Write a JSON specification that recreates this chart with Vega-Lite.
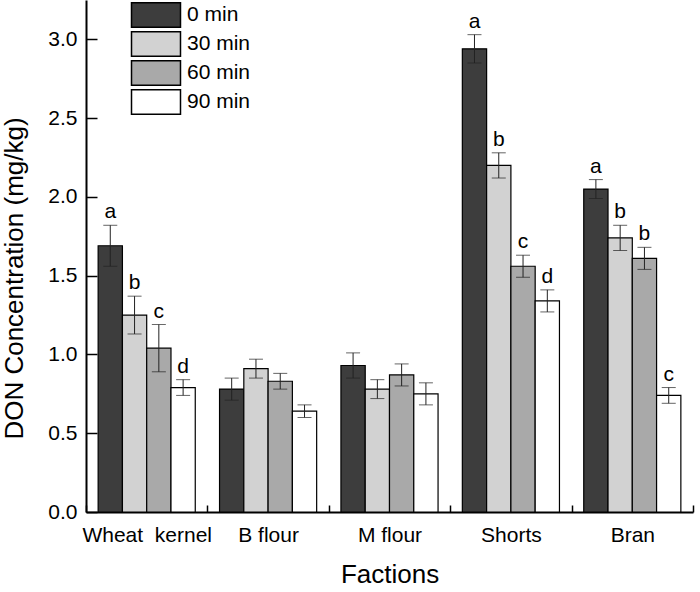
{
  "$schema": "https://vega.github.io/schema/vega-lite/v6.json",
  "width": 607,
  "height": 512,
  "autosize": "none",
  "padding": {"left": 86, "top": 0, "right": 7, "bottom": 80},
  "background": "white",
  "config": {
    "font": "Liberation Sans",
    "view": {"stroke": null}
  },
  "data": {
    "values": [
      {"frac": "Wheat kernel", "time": "0 min", "mean": 1.69, "lo": 1.56, "hi": 1.82, "letter": "a"},
      {"frac": "Wheat kernel", "time": "30 min", "mean": 1.25, "lo": 1.13, "hi": 1.37, "letter": "b"},
      {"frac": "Wheat kernel", "time": "60 min", "mean": 1.04, "lo": 0.89, "hi": 1.19, "letter": "c"},
      {"frac": "Wheat kernel", "time": "90 min", "mean": 0.79, "lo": 0.74, "hi": 0.84, "letter": "d"},
      {"frac": "B flour", "time": "0 min", "mean": 0.78, "lo": 0.71, "hi": 0.85, "letter": ""},
      {"frac": "B flour", "time": "30 min", "mean": 0.91, "lo": 0.85, "hi": 0.97, "letter": ""},
      {"frac": "B flour", "time": "60 min", "mean": 0.83, "lo": 0.78, "hi": 0.88, "letter": ""},
      {"frac": "B flour", "time": "90 min", "mean": 0.64, "lo": 0.60, "hi": 0.68, "letter": ""},
      {"frac": "M flour", "time": "0 min", "mean": 0.93, "lo": 0.85, "hi": 1.01, "letter": ""},
      {"frac": "M flour", "time": "30 min", "mean": 0.78, "lo": 0.72, "hi": 0.84, "letter": ""},
      {"frac": "M flour", "time": "60 min", "mean": 0.87, "lo": 0.80, "hi": 0.94, "letter": ""},
      {"frac": "M flour", "time": "90 min", "mean": 0.75, "lo": 0.68, "hi": 0.82, "letter": ""},
      {"frac": "Shorts", "time": "0 min", "mean": 2.94, "lo": 2.85, "hi": 3.03, "letter": "a"},
      {"frac": "Shorts", "time": "30 min", "mean": 2.20, "lo": 2.12, "hi": 2.28, "letter": "b"},
      {"frac": "Shorts", "time": "60 min", "mean": 1.56, "lo": 1.49, "hi": 1.63, "letter": "c"},
      {"frac": "Shorts", "time": "90 min", "mean": 1.34, "lo": 1.27, "hi": 1.41, "letter": "d"},
      {"frac": "Bran", "time": "0 min", "mean": 2.05, "lo": 1.99, "hi": 2.11, "letter": "a"},
      {"frac": "Bran", "time": "30 min", "mean": 1.74, "lo": 1.66, "hi": 1.82, "letter": "b"},
      {"frac": "Bran", "time": "60 min", "mean": 1.61, "lo": 1.54, "hi": 1.68, "letter": "b"},
      {"frac": "Bran", "time": "90 min", "mean": 0.74, "lo": 0.69, "hi": 0.79, "letter": "c"}
    ]
  },
  "encoding": {
    "x": {
      "field": "frac",
      "type": "nominal",
      "sort": ["Wheat kernel", "B flour", "M flour", "Shorts", "Bran"],
      "scale": {"paddingInner": 0, "paddingOuter": 0},
      "axis": {
        "title": "Factions",
        "titleFontSize": 26,
        "titleFontWeight": "normal",
        "titleColor": "black",
        "titlePadding": 16,
        "labelAngle": 0,
        "labelFontSize": 21,
        "labelColor": "black",
        "labelPadding": 19,
        "labelExpr": "datum.label == 'Wheat kernel' ? 'Wheat\u00a0\u00a0kernel' : datum.label",
        "tickBand": "extent",
        "tickSize": -7,
        "tickWidth": 1.5,
        "tickColor": "black",
        "domainColor": "black",
        "domainWidth": 2
      }
    },
    "xOffset": {
      "field": "time",
      "type": "nominal",
      "sort": ["0 min", "30 min", "60 min", "90 min"],
      "scale": {"paddingInner": 0, "paddingOuter": 0.5}
    }
  },
  "layer": [
    {
      "mark": {"type": "bar", "stroke": "black", "strokeWidth": 1.2},
      "encoding": {
        "y": {
          "field": "mean",
          "type": "quantitative",
          "scale": {"domain": [0, 3.25], "nice": false, "zero": true},
          "axis": {
            "title": "DON Concentration (mg/kg)",
            "titleFontSize": 26,
            "titleFontWeight": "normal",
            "titleColor": "black",
            "titlePadding": 20,
            "titleY": 278,
            "values": [0, 0.25, 0.5, 0.75, 1, 1.25, 1.5, 1.75, 2, 2.25, 2.5, 2.75, 3, 3.25],
            "labelExpr": "datum.value % 0.5 == 0 ? format(datum.value, '.1f') : ''",
            "labelFontSize": 21,
            "labelColor": "black",
            "labelPadding": 20,
            "tickSize": {"condition": {"test": "datum.value % 0.5 != 0", "value": -7}, "value": -11},
            "tickWidth": 1.5,
            "tickColor": "black",
            "domainColor": "black",
            "domainWidth": 2,
            "grid": false
          }
        },
        "fill": {
          "field": "time",
          "type": "nominal",
          "sort": ["0 min", "30 min", "60 min", "90 min"],
          "scale": {
            "domain": ["0 min", "30 min", "60 min", "90 min"],
            "range": ["#3d3d3d", "#d2d2d2", "#a9a9a9", "#ffffff"]
          },
          "legend": {
            "title": null,
            "orient": "none",
            "legendX": 57,
            "legendY": 2,
            "symbolType": "M-2,-1H2V1H-2Z",
            "symbolSize": 600,
            "symbolStrokeColor": "black",
            "symbolStrokeWidth": 1.5,
            "symbolOpacity": 1,
            "labelFontSize": 21,
            "labelColor": "black",
            "labelOffset": 18,
            "rowPadding": -7
          }
        }
      }
    },
    {
      "mark": {"type": "rule", "color": "#222", "strokeWidth": 1},
      "encoding": {
        "y": {"field": "lo", "type": "quantitative"},
        "y2": {"field": "hi"}
      }
    },
    {
      "mark": {"type": "tick", "orient": "horizontal", "size": 14, "thickness": 1, "color": "#222"},
      "encoding": {"y": {"field": "lo", "type": "quantitative"}}
    },
    {
      "mark": {"type": "tick", "orient": "horizontal", "size": 14, "thickness": 1, "color": "#222"},
      "encoding": {"y": {"field": "hi", "type": "quantitative"}}
    },
    {
      "mark": {"type": "text", "baseline": "bottom", "dy": -3, "fontSize": 21, "color": "black"},
      "encoding": {
        "y": {"field": "hi", "type": "quantitative"},
        "text": {"field": "letter"}
      }
    }
  ]
}
